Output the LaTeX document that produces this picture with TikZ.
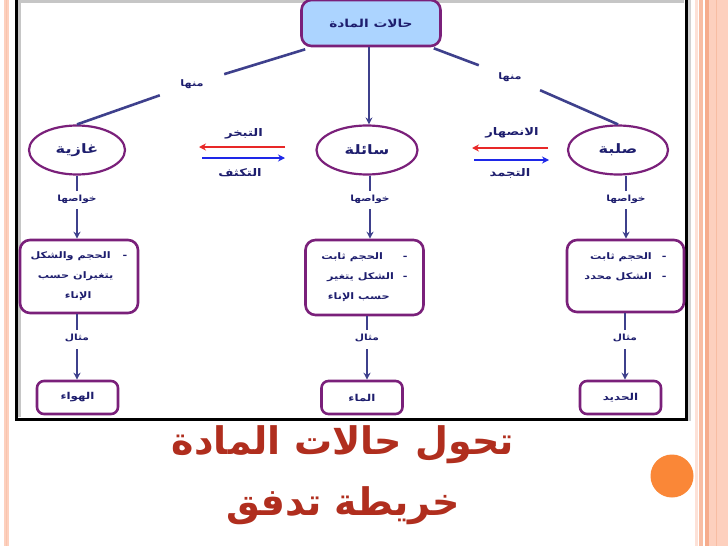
\documentclass[tikz,border=0pt]{standalone}
\usepackage{fontspec}
\newfontfamily\arabicfont[Script=Arabic]{DejaVu Sans}
\newfontfamily\arabicwide[Script=Arabic,FakeStretch=1.25]{DejaVu Sans}
\TeXXeTstate=1
\usetikzlibrary{arrows.meta,shapes.geometric}
\newcommand{\AR}[1]{{\beginR #1\endR}}
\definecolor{navy}{RGB}{30,30,110}
\definecolor{connc}{RGB}{62,64,140}
\definecolor{purp}{RGB}{122,32,122}
\definecolor{topfill}{RGB}{172,212,255}
\definecolor{redarr}{RGB}{232,40,40}
\definecolor{bluearr}{RGB}{30,40,232}
\definecolor{titlec}{RGB}{176,46,30}
\definecolor{orangec}{RGB}{250,135,55}
\definecolor{salL}{RGB}{253,208,190}
\definecolor{salD}{RGB}{246,172,140}
\definecolor{salP}{RGB}{253,225,215}
\begin{document}
\begin{tikzpicture}[x={(1pt,0)},y={(0,-1pt)},
  conn/.style={draw=connc, line width=2.6pt},
  arr/.style={conn, -{Stealth[length=7pt,width=7pt]}},
  lbl/.style={text=navy, font=\arabicwide\bfseries\fontsize{8.5}{10}\selectfont, inner xsep=2pt, inner ysep=4pt},
  minlbl/.style={text=navy, font=\arabicwide\bfseries\fontsize{9}{10}\selectfont, minimum width=64pt, minimum height=24pt, inner sep=0pt},
  ell/.style={ellipse, draw=purp, line width=2.2pt, fill=white, minimum width=96pt, minimum height=49pt, inner sep=0pt, text=navy, font=\arabicwide\bfseries\fontsize{13}{15}\selectfont},
  pbox/.style={rectangle, rounded corners=10pt, draw=purp, line width=2.6pt, fill=white, text=navy, inner sep=0pt, font=\arabicwide\bfseries\fontsize{9}{20}\selectfont},
  ebox/.style={rectangle, rounded corners=7pt, draw=purp, line width=2.6pt, fill=white, text=navy, minimum width=81pt, minimum height=33pt, inner sep=0pt, font=\arabicwide\bfseries\fontsize{9.5}{10}\selectfont},
  trlbl/.style={text=navy, font=\arabicwide\bfseries\fontsize{10.5}{12}\selectfont, inner sep=1pt},
  redA/.style={draw=redarr, line width=2.4pt, -{Stealth[length=7pt,width=7pt]}},
  blueA/.style={draw=bluearr, line width=2.4pt, -{Stealth[length=7pt,width=7pt]}},
  title/.style={text=titlec, font=\arabicfont\bfseries\fontsize{38}{40}\selectfont, inner sep=0pt}]
\useasboundingbox (0,0) rectangle (728,546);
\fill[white] (0,0) rectangle (728,546);
% side stripes
\fill[salL] (4,0) rectangle (8.5,546);
\fill[salD!70] (5.5,0) rectangle (7,546);
\fill[salP] (695,0) rectangle (697.5,546);
\fill[salD!80] (699,0) rectangle (703,546);
\fill[salL] (705,0) rectangle (728,546);
\fill[salD] (705,0) rectangle (709,546);
\draw[salD!80, line width=1pt] (716,0) -- (716,546);
% frame
\draw[gray!45, line width=3pt] (18,1.5) -- (684,1.5);
\draw[gray!45, line width=2.5pt] (19.5,1.5) -- (19.5,417);
\draw[gray!35, line width=2.5pt] (689.5,0) -- (689.5,421);
\draw[black, line width=3pt] (16,-3) rectangle (686.5,419);
% orange dot
\fill[orangec] (672,476) circle (21.5);

% top node
\node[rectangle, rounded corners=10pt, draw=purp, line width=2.6pt, fill=topfill, minimum width=139pt, minimum height=46pt, text=navy, font=\arabicwide\bfseries\fontsize{11}{13}\selectfont] (top) at (371,23) {\AR{حالات المادة}};

% state ellipses
\node[ell] (gas) at (77,150) {\AR{غازية}};
\node[ell, minimum width=101pt] (liq) at (367,150) {\AR{سائلة}};
\node[ell, minimum width=100pt] (sol) at (618,150) {\AR{صلبة}};

% minha labels
\node[minlbl] (lmin) at (192,84) {\AR{منها}};
\node[minlbl, minimum width=62pt, minimum height=26pt] (rmin) at (510,77) {\AR{منها}};

\draw[conn] ([xshift=5pt,yshift=-2pt]top.south west) -- (lmin);
\draw[conn] (lmin) -- (gas.north);
\draw[conn] ([xshift=-8pt,yshift=-1pt]top.south east) -- (rmin);
\draw[conn] (rmin) -- (sol.north);
\draw[arr] (top.south -| liq.north) ++(2,0) coordinate (mtop) (mtop) -- (mtop |- liq.north);

% property labels
\node[lbl] (gl) at (77,199) {\AR{خواصها}};
\node[lbl] (ll) at (370,199) {\AR{خواصها}};
\node[lbl] (sl) at (626,199) {\AR{خواصها}};

% property boxes
\node[pbox, minimum width=118pt, minimum height=73pt, align=right] (gbox) at (79,276.5)
  {\AR{-\hspace{12pt}الحجم والشكل}\\\AR{\hspace*{14pt}يتغيران حسب}\\\AR{\hspace*{36pt}الإناء}};
\node[pbox, minimum width=118pt, minimum height=75pt, align=right] (lbox) at (364.5,277.5)
  {\AR{-\hspace{20pt}الحجم ثابت}\\\AR{-\hspace{9pt}الشكل يتغير}\\\AR{\hspace*{18pt}حسب الإناء}};
\node[pbox, minimum width=117pt, minimum height=72pt, align=right] (sbox) at (625.5,276)
  {\AR{-\hspace{10pt}الحجم ثابت}\\\AR{-\hspace{10pt}الشكل محدد}\\\mbox{}};

\draw[conn] (gl.north |- gas.south) -- (gl.north);
\draw[conn] (ll.north |- liq.south) -- (ll.north);
\draw[conn] (sl.north |- sol.south) -- (sl.north);
\draw[arr] ([yshift=-2pt]gl.south) -- (gl.south |- gbox.north);
\draw[arr] ([yshift=-2pt]ll.south) -- (ll.south |- lbox.north);
\draw[arr] ([yshift=-2pt]sl.south) -- (sl.south |- sbox.north);

% example labels
\node[lbl] (ge) at (77,338) {\AR{مثال}};
\node[lbl] (le) at (367,338) {\AR{مثال}};
\node[lbl] (se) at (625,338) {\AR{مثال}};

\node[ebox] (gex) at (77.5,397.5) {\AR{الهواء}};
\node[ebox] (lex) at (362,397.5) {\AR{الماء}};
\node[ebox] (sex) at (620.5,397.5) {\AR{الحديد}};

\draw[conn] (ge.north |- gbox.south) -- (ge.north);
\draw[conn] (le.north |- lbox.south) -- (le.north);
\draw[conn] (se.north |- sbox.south) -- (se.north);
\draw[arr] ([yshift=-3pt]ge.south) -- (ge.south |- gex.north);
\draw[arr] ([yshift=-3pt]le.south) -- (le.south |- lex.north);
\draw[arr] ([yshift=-3pt]se.south) -- (se.south |- sex.north);

% transition arrows
\coordinate (evA) at (285,147);
\coordinate (evB) at (199,147);
\coordinate (coA) at (202,158);
\coordinate (coB) at (285,158);
\coordinate (meA) at (548,148);
\coordinate (meB) at (472,148);
\coordinate (frA) at (474,160);
\coordinate (frB) at (549,160);
\draw[redA] (evA) -- (evB);
\draw[blueA] (coA) -- (coB);
\draw[redA] (meA) -- (meB);
\draw[blueA] (frA) -- (frB);
\node[trlbl] (evl) at (244,134) {\AR{التبخر}};
\node[trlbl] (col) at (240,173) {\AR{التكثف}};
\node[trlbl] (mel) at (512,133) {\AR{الانصهار}};
\node[trlbl] (frl) at (510,173) {\AR{التجمد}};

% title
\node[title] (t1) at (343,445) {\AR{تحول حالات المادة}};
\node[title] (t2) at (343,506) {\AR{خريطة تدفق}};
\end{tikzpicture}
\end{document}
